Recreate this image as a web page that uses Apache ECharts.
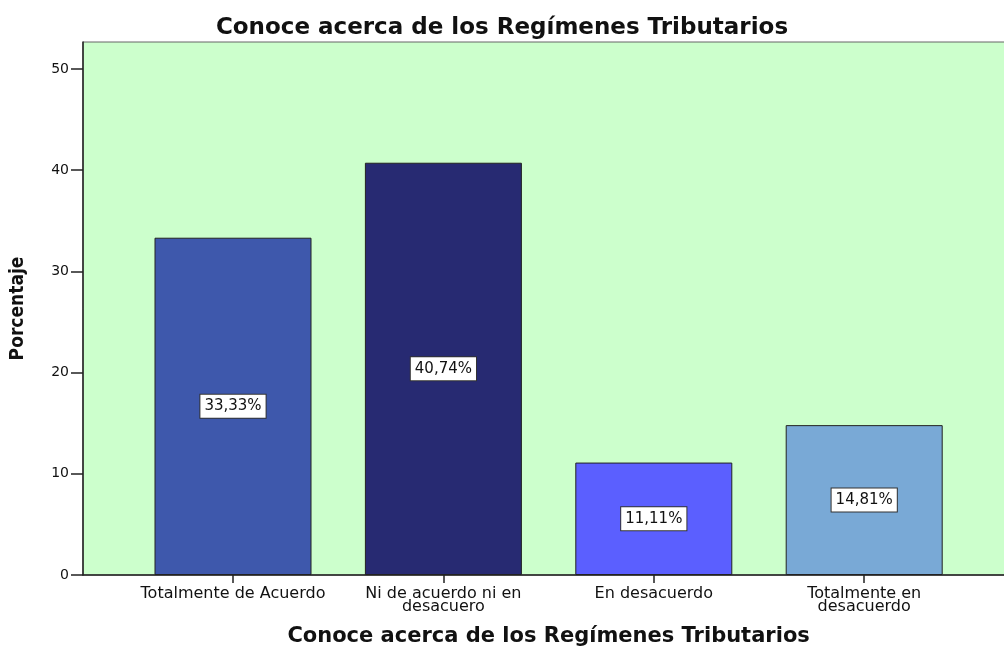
<!DOCTYPE html>
<html>
<head>
<meta charset="utf-8">
<script src="https://cdn.jsdelivr.net/npm/echarts@6/dist/echarts.min.js"></script>
<style>
  html, body { margin: 0; padding: 0; background: #fff; }
  #chart { width: 1004px; height: 651px; }
</style>
</head>
<body>
<div id="chart"></div>
<script>
const categories = ["Totalmente de Acuerdo", "Ni de acuerdo ni en\ndesacuero", "En desacuerdo", "Totalmente en\ndesacuerdo"]
const percentages = [33.33, 40.74, 11.11, 14.81]
const barColors = ["#3e58ac", "#272a72", "#5b5fff", "#79a9d6"]
const yTicks = { min: 0, max: 52.67, interval: 10 }

const chart = echarts.init(document.querySelector("#chart"))
chart.setOption({
	animation: false,
	backgroundColor: "#fff",
	title: {
		text: "Conoce acerca de los Regímenes Tributarios",
		left: "center",
		top: 12,
		textStyle: { fontFamily: "DejaVu Sans", fontWeight: "bold", fontSize: 23, color: "#111" }
	},
	grid: [
		// background panel + y axis
		{ left: 83, top: 42, right: -2, bottom: 76, show: true, backgroundColor: "#ccffcc", borderColor: "#666", borderWidth: 1, outerBoundsMode: "none" },
		// bars
		{ left: 127.8, width: 841.6, top: 42, bottom: 76, outerBoundsMode: "none" }
	],
	xAxis: [
		{
			gridIndex: 0, type: "value", min: 0, max: 1,
			axisLine: { show: true, onZero: false, lineStyle: { color: "#222", width: 1.5 } },
			axisTick: { show: false }, axisLabel: { show: false }, splitLine: { show: false }
		},
		{
			gridIndex: 1, type: "category", data: categories,
			axisLine: { show: false },
			axisTick: { show: true, inside: false, alignWithLabel: true, length: 8, lineStyle: { color: "#222", width: 1.5 } },
			axisLabel: { interval: 0, fontFamily: "DejaVu Sans", fontSize: 16, color: "#111", margin: 12, lineHeight: 13 },
			name: "Conoce acerca de los Regímenes Tributarios",
			nameLocation: "middle",
			nameGap: 51,
			nameTextStyle: { fontFamily: "DejaVu Sans", fontWeight: "bold", fontSize: 21, color: "#111" }
		}
	],
	yAxis: [
		{
			gridIndex: 0, type: "value", ...yTicks,
			axisLine: { show: true, lineStyle: { color: "#222", width: 1.5 } },
			axisTick: { show: true, inside: false, length: 12, lineStyle: { color: "#222", width: 1.5 } },
			axisLabel: { fontFamily: "DejaVu Sans", fontSize: 14, color: "#111", margin: 14, showMaxLabel: false },
			splitLine: { show: false },
			name: "Porcentaje",
			nameLocation: "middle",
			nameGap: 55,
			nameTextStyle: { fontFamily: "DejaVu Sans Condensed, Liberation Sans", fontWeight: "bold", fontSize: 19, color: "#111" }
		},
		{ gridIndex: 1, type: "value", ...yTicks, show: false }
	],
	series: [{
		type: "bar",
		xAxisIndex: 1,
		yAxisIndex: 1,
		barWidth: 157,
		data: percentages.map((v, i) => ({ value: v, itemStyle: { color: barColors[i] } })),
		itemStyle: { borderColor: "#222", borderWidth: 1 },
		label: {
			show: true,
			position: "inside",
			formatter: p => p.value.toFixed(2).replace(".", ",") + "%",
			fontFamily: "DejaVu Sans",
			fontSize: 15,
			color: "#111",
			backgroundColor: "#fff",
			borderColor: "#333",
			borderWidth: 1,
			padding: [5, 4, 3, 4]
		}
	}]
})
</script>
</body>
</html>
